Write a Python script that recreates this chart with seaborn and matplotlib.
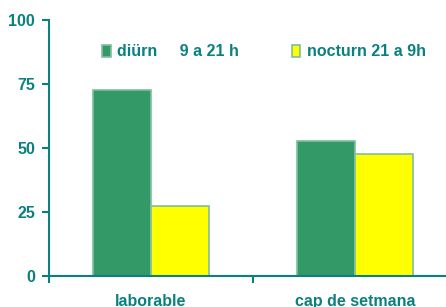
import pandas as pd
import seaborn as sns
import matplotlib.pyplot as plt

categories = ["laborable", "cap de setmana"]
series = ["diürn     9 a 21 h", "nocturn 21 a 9h"]
diurn = [72.8, 52.6]
nocturn = [27.2, 47.6]
y_ticks = [0, 25, 50, 75, 100]

teal = "#0a8080"
palette = {series[0]: "#339966", series[1]: "#ffff00"}

df = pd.DataFrame({
    "period": categories * 2,
    "serie": [series[0]] * 2 + [series[1]] * 2,
    "value": diurn + nocturn,
})

sns.set_style("white")
plt.rcParams["font.family"] = ["Liberation Sans", "DejaVu Sans"]
plt.rcParams["font.weight"] = "bold"

fig, ax = plt.subplots(figsize=(4.46, 3.07), dpi=100)
fig.subplots_adjust(left=0.11, right=1.0, bottom=0.101, top=0.935)

sns.barplot(data=df, x="period", y="value", hue="serie", palette=palette,
            width=0.57, gap=0, edgecolor="#7fbf9f", linewidth=1.2, ax=ax,
            saturation=1)

ax.set_yticks(y_ticks)
ax.set_yticklabels([str(t) for t in y_ticks])
ax.set_xticks([-0.5, 0.5])
ax.set_xticklabels([])
ax.set_xticks([0, 1], minor=True)
ax.set_xticklabels(categories, minor=True)
ax.set_ylim(0, 100)
ax.set_xlim(-0.5, 1.446)
ax.tick_params(axis="x", which="major", direction="out", length=5, width=1.5,
               color=teal, bottom=True)
ax.tick_params(axis="x", which="minor", length=0, pad=13, labelsize=11.5,
               labelcolor=teal, bottom=True)
ax.tick_params(axis="y", direction="out", length=5, width=1.5, color=teal,
               labelsize=11.5, labelcolor=teal, pad=5, left=True)
for lab in ax.get_xticklabels(minor=True) + ax.get_yticklabels():
    lab.set_fontweight("bold")

for side in ["top", "right"]:
    ax.spines[side].set_visible(False)
for side in ["left", "bottom"]:
    ax.spines[side].set_color(teal)
    ax.spines[side].set_linewidth(1.5)

ax.set_xlabel("")
ax.set_ylabel("")

leg = ax.legend(loc="center left", bbox_to_anchor=(0.097, 0.875), ncol=2, frameon=False,
                handlelength=0.55, handleheight=0.75, handletextpad=0.4,
                columnspacing=3.3, prop={"weight": "bold", "size": 11.5})
for t in leg.get_texts():
    t.set_color(teal)

fig.savefig("out.png", dpi=100)
